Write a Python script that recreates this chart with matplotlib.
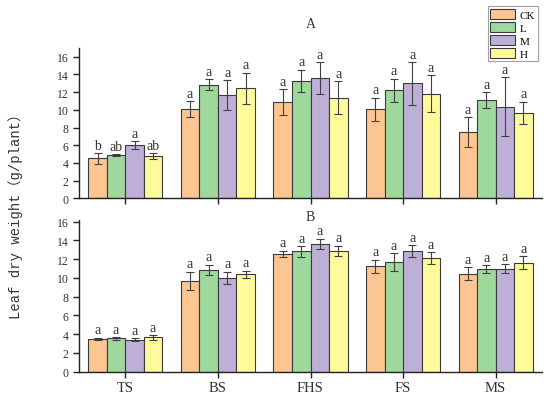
import matplotlib
matplotlib.use("Agg")
import matplotlib.pyplot as plt
import numpy as np

stages = ["TS", "BS", "FHS", "FS", "MS"]
treatments = ["CK", "L", "M", "H"]
colors = ["#FDC591", "#9FD89C", "#BEAFD7", "#FFFB9A"]

# Panel A values (mean, error) per treatment over stages
A_mean = {
    "CK": [4.52, 10.09, 10.90, 10.05, 7.46],
    "L":  [4.89, 12.84, 13.25, 12.20, 11.10],
    "M":  [6.02, 11.67, 13.56, 12.99, 10.35],
    "H":  [4.78, 12.43, 11.37, 11.82, 9.67],
}
A_err = {
    "CK": [0.60, 0.85, 1.45, 1.30, 1.70],
    "L":  [0.08, 0.60, 1.28, 1.30, 0.90],
    "M":  [0.45, 1.65, 1.83, 2.40, 3.30],
    "H":  [0.35, 1.75, 1.86, 2.10, 1.24],
}
A_sig = {
    "CK": ["b", "a", "a", "a", "a"],
    "L":  ["ab", "a", "a", "a", "a"],
    "M":  ["a", "a", "a", "a", "a"],
    "H":  ["ab", "a", "a", "a", "a"],
}

B_mean = {
    "CK": [3.49, 9.71, 12.55, 11.24, 10.45],
    "L":  [3.56, 10.85, 12.84, 11.70, 10.92],
    "M":  [3.42, 10.00, 13.65, 12.84, 10.99],
    "H":  [3.67, 10.39, 12.87, 12.09, 11.63],
}
B_err = {
    "CK": [0.12, 0.96, 0.35, 0.69, 0.68],
    "L":  [0.15, 0.58, 0.57, 0.94, 0.44],
    "M":  [0.15, 0.65, 0.52, 0.64, 0.48],
    "H":  [0.25, 0.40, 0.55, 0.64, 0.69],
}
B_sig = {t: ["a"] * 5 for t in treatments}

serif = ["Liberation Serif", "DejaVu Serif"]
plt.rcParams["font.family"] = serif

fig = plt.figure(figsize=(5.5, 4.1), dpi=100)
axA = fig.add_axes([79/550, 1-199.3/410, 463/550, 150.45/410])
axB = fig.add_axes([79/550, 1-372.7/410, 463/550, 151.9/410])

x = np.arange(1, len(stages) + 1)
w = 0.2

def draw(ax, mean, err, sig, ylim):
    for i, t in enumerate(treatments):
        xs = x + (i - 1.5) * w
        m = np.array(mean[t]); e = np.array(err[t])
        ax.bar(xs, m, width=w, color=colors[i], edgecolor="#3a3a3a",
               linewidth=0.8, label=t, zorder=2)
        ax.errorbar(xs, m, yerr=e, fmt="none", ecolor="#404040",
                    elinewidth=0.8, capsize=3, capthick=0.8, zorder=3)
        for xx, yy, s in zip(xs, m + e, sig[t]):
            ax.annotate(s, (xx, yy), xytext=(0, 1), textcoords="offset points",
                        ha="center", va="bottom", fontsize=10, color="#333333")
    ax.set_xlim(0.5, 5.5)
    ax.set_ylim(*ylim)
    ax.set_yticks(np.arange(0, 17, 2))
    ax.set_xticks(x)
    for s in ["top", "right"]:
        ax.spines[s].set_visible(False)
    for s in ["left", "bottom"]:
        ax.spines[s].set_linewidth(1.0)
        ax.spines[s].set_color("#222222")
    ax.tick_params(axis="both", direction="out", length=4, width=1.0,
                   colors="#222222", labelsize=8.5, labelcolor="#333333")

draw(axA, A_mean, A_err, A_sig, (0, 17))
draw(axB, B_mean, B_err, B_sig, (0, 16.2))
axA.set_xticklabels([])
axB.set_xticklabels(stages, fontsize=10.5)
axB.tick_params(axis="x", pad=3)

axA.text(3, 19.7, "A", ha="center", va="center", fontsize=10, color="#333333")
axB.text(3, 16.6, "B", ha="center", va="center", fontsize=10, color="#333333")

fig.text(16/550, 1-213/410, "Leaf dry weight（g/plant）", rotation=90,
         ha="center", va="center", fontsize=10, color="#333333",
         family=["Liberation Mono", "Noto Sans CJK SC", "DejaVu Sans"])

h, l = axA.get_legend_handles_labels()
leg = fig.legend(h, l, loc="upper right", bbox_to_anchor=(538/550, 1-7/410),
                 bbox_transform=fig.transFigure, fontsize=8, frameon=True,
                 fancybox=False, edgecolor="#888888", borderpad=0.25,
                 handlelength=2.2, handleheight=1.0, handletextpad=0.45,
                 labelspacing=0.2, borderaxespad=0)
leg.get_frame().set_linewidth(0.8)

fig.savefig("out.png", dpi=100)
